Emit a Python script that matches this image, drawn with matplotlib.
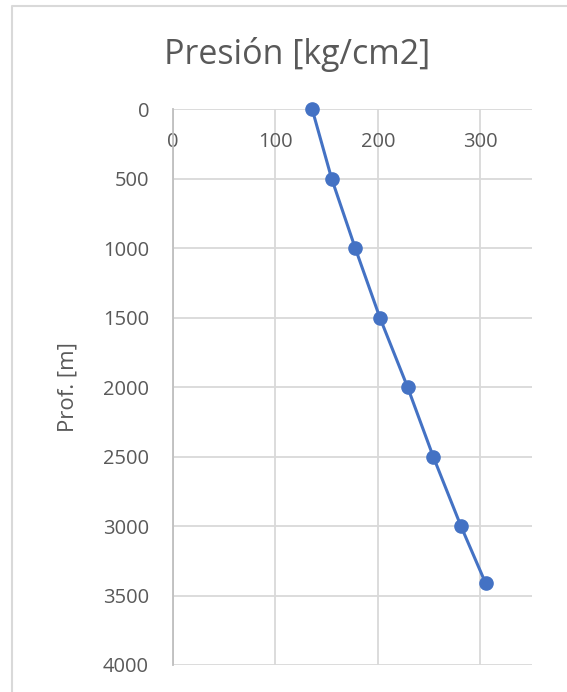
import matplotlib.pyplot as plt
from matplotlib.lines import Line2D

# --- Data ---
depth_m = [0, 500, 1000, 1500, 2000, 2500, 3000, 3410]
pressure = [136, 155, 178, 202, 229, 254, 281, 305]

x_ticks = [0, 100, 200, 300]
y_ticks = [0, 500, 1000, 1500, 2000, 2500, 3000, 3500, 4000]

TEXT = "#595959"
GRID = "#d9d9d9"
BLUE = "#4472C4"

plt.rcParams['font.family'] = ['Open Sans', 'DejaVu Sans']

fig = plt.figure(figsize=(5.67, 6.92), dpi=100)
ax = fig.add_axes([172.7 / 567, 1 - 665 / 692, 359 / 567, 555.7 / 692])

ax.plot(pressure, depth_m, color=BLUE, lw=2.2, marker='o', ms=9.5,
        clip_on=False, zorder=3)

ax.set_xlim(0, 350)
ax.set_ylim(4000, 0)
ax.set_xticks(x_ticks)
ax.set_yticks(y_ticks)

# x labels on top, drawn inside the plot area like Excel does
ax.xaxis.tick_top()
ax.tick_params(axis='x', length=0, pad=-31, labelsize=14.5, labelcolor=TEXT)
ax.tick_params(axis='y', length=0, pad=17, labelsize=14.5, labelcolor=TEXT)

ax.grid(True, color=GRID, lw=1.3)
ax.set_axisbelow(True)
for side in ['top', 'right', 'bottom']:
    ax.spines[side].set_visible(False)
ax.spines['left'].set_color('#bfbfbf')
ax.spines['left'].set_linewidth(1.3)

ax.set_ylabel("Prof. [m]", fontsize=16, color=TEXT)
ax.yaxis.set_label_coords(-0.263, 0.5)
fig.text(297 / 567, 1 - 55 / 692, "Presión [kg/cm2]",
         ha='center', va='center', fontsize=24.5, color=TEXT)

# chart frame (light border, cut at right/bottom of the screenshot)
fig.add_artist(Line2D([12 / 567, 12 / 567, 1.0], [0.0, 1 - 6 / 692, 1 - 6 / 692],
                      transform=fig.transFigure, color=GRID, lw=1.5))

fig.savefig("out.png", dpi=100)
